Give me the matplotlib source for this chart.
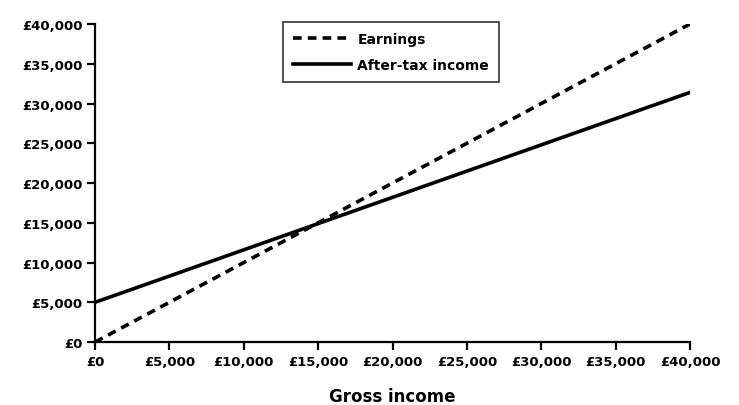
import matplotlib
matplotlib.use("Agg")
import matplotlib.pyplot as plt
from matplotlib.ticker import FuncFormatter

plt.rcParams['font.family'] = ['DejaVu Sans']
plt.rcParams['font.weight'] = 'bold'

gross = [0, 40000]
earnings = [0, 40000]
after_tax = [5000, 31400]
ticks = list(range(0, 40001, 5000))

fig = plt.figure(figsize=(7.39, 4.06), dpi=100)
ax = fig.add_axes([0.1286, 0.155, 0.8051, 0.7834])

ax.plot(gross, earnings, color='black', lw=2.6, linestyle=(0, (2.4, 1.7)), label='Earnings')
ax.plot(gross, after_tax, color='black', lw=2.6, label='After-tax income')

ax.set_xlim(0, 40000)
ax.set_ylim(0, 40000)
ax.set_xticks(ticks)
ax.set_yticks(ticks)
fmt = FuncFormatter(lambda v, p: '£{:,.0f}'.format(v))
ax.xaxis.set_major_formatter(fmt)
ax.yaxis.set_major_formatter(fmt)
for s in ['top', 'right']:
    ax.spines[s].set_visible(False)
for s in ['left', 'bottom']:
    ax.spines[s].set_linewidth(1.6)
ax.tick_params(direction='out', length=6, width=1.6, labelsize=9.5, pad=3)
ax.set_xlabel('Gross income', fontsize=12, fontweight='bold', labelpad=14)

leg = ax.legend(loc='upper left', bbox_to_anchor=(0.316, 1.006), frameon=True, fancybox=False,
                edgecolor='black', fontsize=10, handlelength=4.2, borderpad=0.7,
                labelspacing=0.9, handletextpad=0.45, borderaxespad=0)
leg.get_frame().set_linewidth(1.2)

fig.savefig('out.png', dpi=100)
